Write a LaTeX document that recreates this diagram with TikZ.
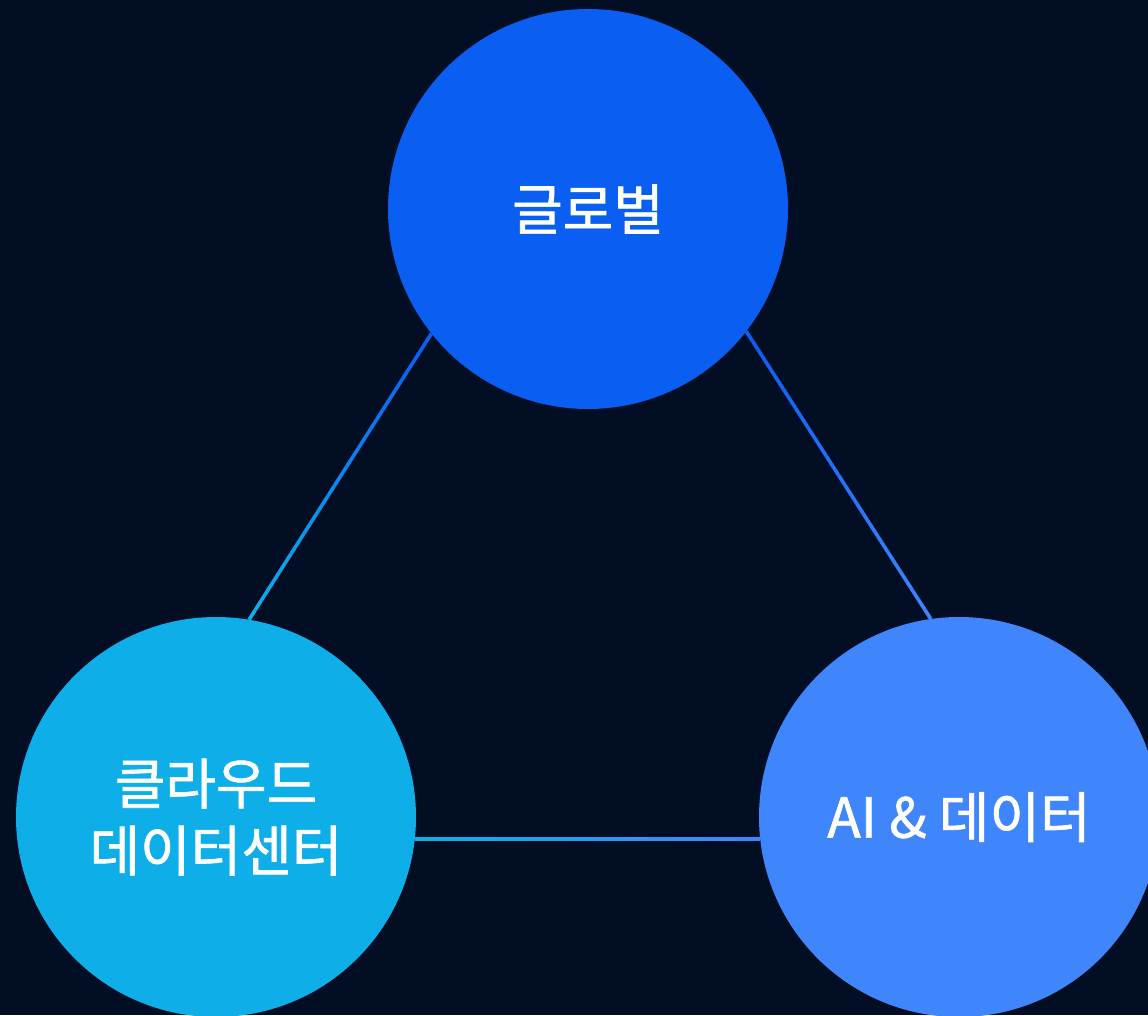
\documentclass[tikz,border=0pt]{standalone}
\usepackage{fontspec}
\setmainfont{Noto Sans CJK KR}
\newfontfamily\hublabel{Noto Sans CJK KR}[FakeBold=1.2]
\usetikzlibrary{calc}
\definecolor{bg}{HTML}{020E24}
\definecolor{cglobal}{HTML}{0A5EF2}
\definecolor{ccloud}{HTML}{0EAEE9}
\definecolor{cai}{HTML}{3F86FD}
\newcommand\gradconn[4]{%
  \foreach \i in {0,...,29}{%
    \pgfmathsetmacro\pct{100-\i*100/29}%
    \draw[link,color=#3!\pct!#4] ($(#1)!\i/30!(#2)$) -- ($(#1)!\i/30+1/30!(#2)$);
  }}
\begin{document}
\begin{tikzpicture}[x=1pt,y=-1pt,
  hub/.style={circle,minimum size=400pt,inner sep=0pt,text=white,font=\hublabel\fontsize{55}{67}\selectfont,align=center},
  link/.style={line width=3.6pt,line cap=butt}]
\clip (0,0) rectangle (1148,1015);
\fill[bg] (0,0) rectangle (1148,1015);
\coordinate (ctop) at (588,209);
\coordinate (cleft) at (216,817);
\coordinate (cright) at (959,817);
% connectors drawn first (hidden under circles at their ends)
\path (ctop) ++(218.5:200pt) coordinate (t1);
\path (cleft) ++(80.5:200pt) coordinate (l1);
\path (ctop) ++(322.3:200pt) coordinate (t2);
\path (cright) ++(98.1:200pt) coordinate (r1);
\path (cleft) ++(-6.3:200pt) coordinate (l2);
\path (cright) ++(186.3:200pt) coordinate (r2);
\gradconn{t1}{l1}{cglobal}{ccloud}
\gradconn{t2}{r1}{cglobal}{cai}
\gradconn{l2}{r2}{ccloud}{cai}
\node[hub,fill=cglobal] (global) at (ctop) {글로벌};
\node[hub,fill=ccloud] (cloud) at (cleft) {클라우드\\데이터센터};
\node[hub,fill=cai] (ai) at (cright) {AI \& 데이터};
\end{tikzpicture}
\end{document}
